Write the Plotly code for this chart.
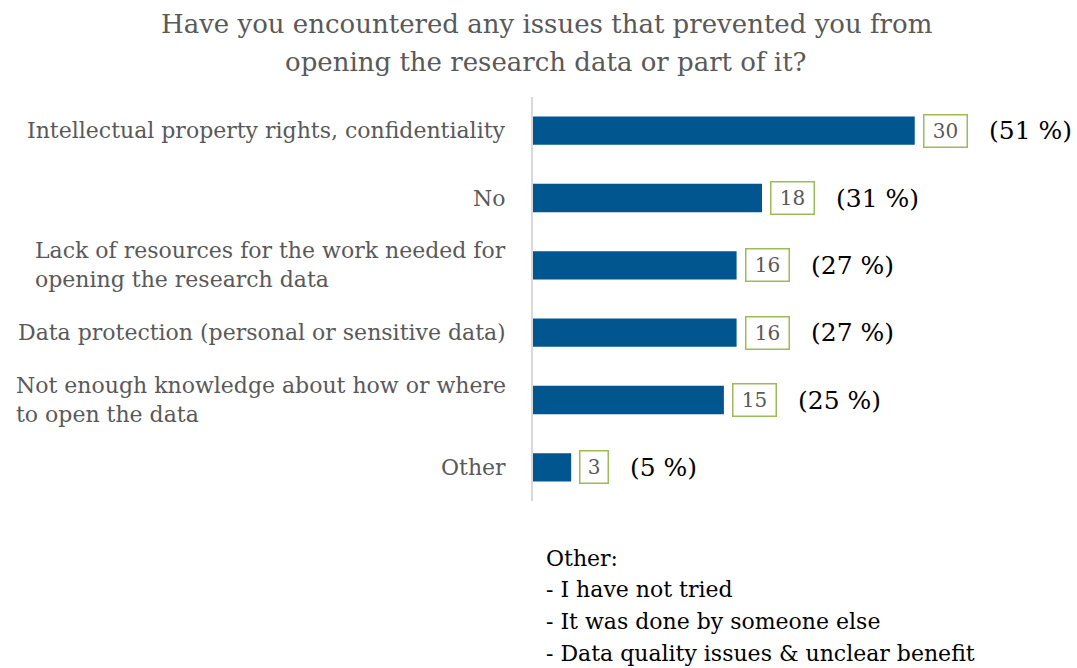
import plotly.graph_objects as go

categories = [
    "Intellectual property rights, confidentiality",
    "No",
    "Lack of resources for the work needed for<br>opening the research data",
    "Data protection (personal or sensitive data)",
    "Not enough knowledge about how or where<br>to open the data",
    "Other",
]
counts = [30, 18, 16, 16, 15, 3]
percents = [51, 31, 27, 27, 25, 5]
title_lines = ["Have you encountered any issues that prevented you from",
               "opening the research data or part of it?"]
note_lines = ["Other:", "- I have not tried", "- It was done by someone else",
              "- Data quality issues & unclear benefit"]

FONT = "DejaVu Serif"
BAR = "#01568F"
GREY = "#595959"
GREEN = "#9BBB59"

W, H = 1077, 668
L, R, T, B = 533, 35, 97, 167
PH = H - T - B


def py(pix):
    """pixel y from top -> paper y"""
    return (H - B - pix) / PH


fig = go.Figure(go.Bar(
    x=counts, y=categories, orientation="h",
    marker=dict(color=BAR, line=dict(width=0)),
    hoverinfo="skip",
))

ann = []
for cat, c, p in zip(categories, counts, percents):
    ann.append(dict(x=0, xref="paper", y=cat, yref="y", text=cat, showarrow=False,
                    xanchor="right", yanchor="middle", align="left", xshift=-25,
                    font=dict(family=FONT, size=22, color=GREY)))
    bw = 40 if c >= 10 else 25
    ann.append(dict(x=c, xref="x", y=cat, yref="y", text=str(c), showarrow=False,
                    xanchor="left", yanchor="middle", xshift=8, width=bw, height=29,
                    bordercolor=GREEN, borderwidth=1.5, borderpad=1,
                    font=dict(family=FONT, size=20, color=GREY)))
    ann.append(dict(x=c, xref="x", y=cat, yref="y", text=f"({p} %)", showarrow=False,
                    xanchor="left", yanchor="middle", xshift=8 + bw + 5 + 19,
                    font=dict(family=FONT, size=25, color="#000000")))

for i, line in enumerate(note_lines):
    ann.append(dict(x=0, xref="paper", y=py(558 + 31.7 * i), yref="paper",
                    text=line, showarrow=False, xanchor="left", yanchor="middle",
                    align="left", xshift=11,
                    font=dict(family=FONT, size=22, color="#000000")))

for i, line in enumerate(title_lines):
    ann.append(dict(x=546 / W, xref="paper", y=py(24 + 38 * i), yref="paper",
                    text=line, showarrow=False, xanchor="center", yanchor="middle",
                    font=dict(family=FONT, size=26, color=GREY)))
# title x is in container fraction; convert to paper
for a in ann[-len(title_lines):]:
    a["x"] = (546 - L) / (W - L - R)

fig.update_layout(
    width=W, height=H,
    margin=dict(l=L, r=R, t=T, b=B),
    paper_bgcolor="white", plot_bgcolor="white",
    bargap=0.58,
    showlegend=False,
    xaxis=dict(range=[0, 40], visible=False, showgrid=False, zeroline=False),
    yaxis=dict(autorange="reversed", showticklabels=False, showgrid=False, zeroline=False,
               showline=True, linecolor="#D9D9D9", linewidth=2, ticks=""),
    annotations=ann,
)

fig.write_html("out.html")
